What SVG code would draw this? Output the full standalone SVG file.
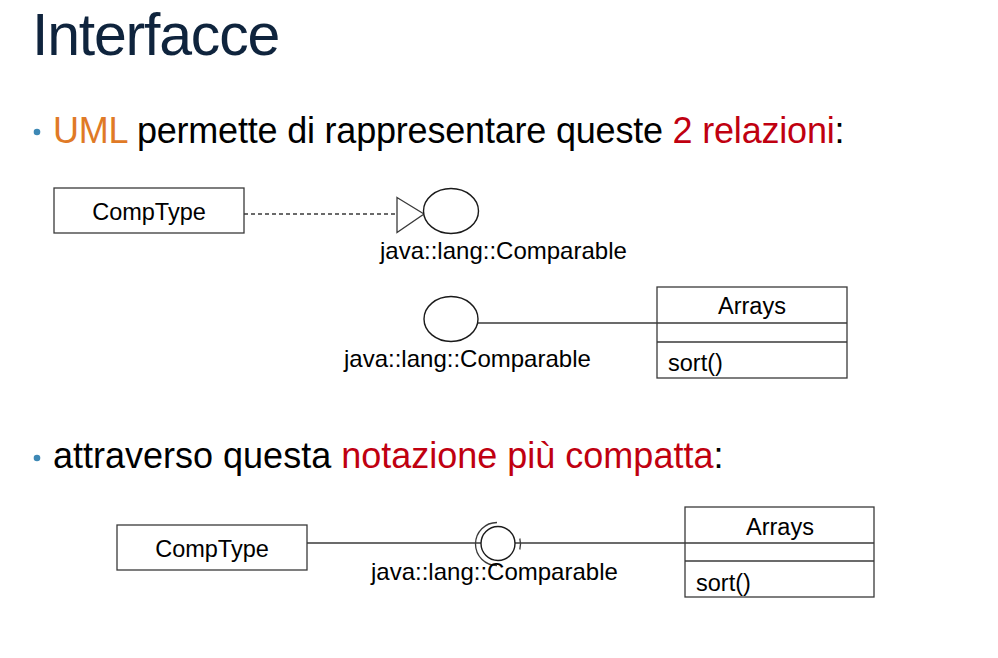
<svg xmlns="http://www.w3.org/2000/svg" width="998" height="658" viewBox="0 0 998 658">
  <style>
    .title { font-family: "Liberation Sans", Arial, sans-serif; font-size: 59px; fill: #0f243d; letter-spacing: -1.2px; }
    .bullet-text { font-family: "Liberation Sans", Arial, sans-serif; font-size: 36px; fill: #000000; }
    .tight { letter-spacing: -0.2px; }
    .orange { fill: #e07a26; }
    .red { fill: #c00010; }
    .dot { fill: #3d88b5; }
    .uml { font-family: "Liberation Sans", Arial, sans-serif; font-size: 23.5px; fill: #000000; }
    .label { font-size: 24px; }
    .box { fill: #ffffff; stroke: #3a3a3a; stroke-width: 1.3; }
    .sep { stroke: #3a3a3a; stroke-width: 1.3; }
    .edge { fill: none; stroke: #3a3a3a; stroke-width: 1.3; }
    .dashed { stroke-dasharray: 4 3; }
    .iface { fill: #ffffff; stroke: #1a1a1a; stroke-width: 1.4; }
  </style>

  <rect width="998" height="658" fill="#ffffff"/>

  <!-- heading and bullet points -->
  <text class="title" x="32" y="55">Interfacce</text>

  <circle class="dot" cx="37" cy="132" r="3.3"/>
  <text class="bullet-text tight" x="53" y="143"><tspan class="orange">UML</tspan> permette di rappresentare queste <tspan class="red">2 relazioni</tspan>:</text>

  <circle class="dot" cx="37" cy="458" r="3.3"/>
  <text class="bullet-text" x="53" y="468">attraverso questa <tspan class="red">notazione più compatta</tspan>:</text>

  <!-- connectors -->
  <g id="connectors">
    <!-- realization: CompType implements Comparable -->
    <line class="edge dashed" x1="244" y1="214" x2="397" y2="214"/>
    <polygon class="edge" points="397,197.5 424,214 397,232.5"/>
    <!-- usage: Arrays requires Comparable -->
    <line class="edge" x1="478" y1="323" x2="657" y2="323"/>
    <!-- compact ball-and-socket notation -->
    <line class="edge" x1="307" y1="543" x2="481" y2="543"/>
    <line class="edge" x1="515" y1="543" x2="685" y2="543"/>
  </g>

  <!-- first diagram -->
  <g id="comptype-1">
    <rect class="box" x="54" y="188" width="190" height="45"/>
    <text class="uml" x="149" y="220" text-anchor="middle">CompType</text>
  </g>

  <g id="comparable-provided">
    <ellipse class="iface" cx="451" cy="211" rx="27.5" ry="22.5"/>
    <text class="uml label" x="380" y="259">java::lang::Comparable</text>
  </g>

  <!-- second diagram -->
  <g id="comparable-required">
    <ellipse class="iface" cx="451" cy="319" rx="27" ry="22.5"/>
    <text class="uml label" x="344" y="367">java::lang::Comparable</text>
  </g>

  <g id="arrays-1">
    <rect class="box" x="657" y="287" width="190" height="91"/>
    <line class="sep" x1="657" y1="323" x2="847" y2="323"/>
    <line class="sep" x1="657" y1="342" x2="847" y2="342"/>
    <text class="uml" x="752" y="314" text-anchor="middle">Arrays</text>
    <text class="uml" x="668" y="371">sort()</text>
  </g>

  <!-- third diagram: compact notation -->
  <g id="comptype-2">
    <rect class="box" x="117" y="525" width="190" height="45"/>
    <text class="uml" x="212" y="557" text-anchor="middle">CompType</text>
  </g>

  <g id="comparable-lollipop">
    <circle class="iface" cx="498" cy="543.5" r="17"/>
    <path class="edge" d="M 497 522.5 A 21.5 21.5 0 0 0 497 565.5"/>
    <path class="edge" d="M 519.8 538.5 A 21.5 21.5 0 0 1 519.8 549.5"/>
    <text class="uml label" x="371" y="580">java::lang::Comparable</text>
  </g>

  <g id="arrays-2">
    <rect class="box" x="685" y="507" width="189" height="90"/>
    <line class="sep" x1="685" y1="543" x2="874" y2="543"/>
    <line class="sep" x1="685" y1="561" x2="874" y2="561"/>
    <text class="uml" x="780" y="535" text-anchor="middle">Arrays</text>
    <text class="uml" x="696" y="591">sort()</text>
  </g>
</svg>
